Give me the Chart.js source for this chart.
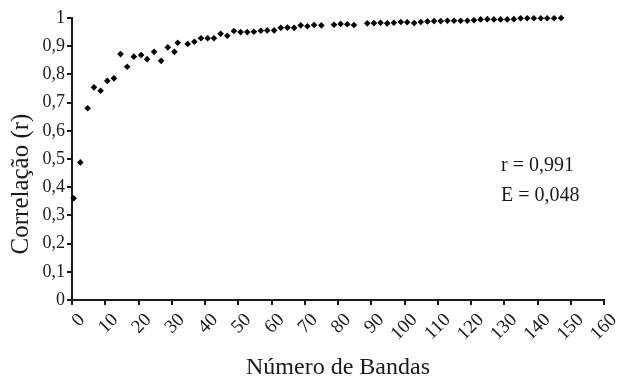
<!DOCTYPE html>
<html>
<head>
<meta charset="utf-8">
<script src="https://cdn.jsdelivr.net/npm/chart.js@4.4.1/dist/chart.umd.min.js"></script>
<style>
  html, body { margin: 0; padding: 0; background: #fff; }
  #wrap { width: 617px; height: 380px; position: relative; }
</style>
</head>
<body>
<div id="wrap"><canvas id="c"></canvas></div>
<script>
// ── data ──────────────────────────────────────────────────
const bandas = [
    0.5, 2.5, 4.7, 6.6, 8.6, 10.6, 12.6, 14.6, 16.6, 18.6,
    20.8, 22.6, 24.7, 26.8, 28.8, 30.8, 31.8, 34.8, 36.8, 38.8,
    40.8, 42.7, 44.7, 46.7, 48.7, 50.7, 52.7, 54.7, 56.8, 58.7,
    60.8, 62.8, 64.8, 66.8, 68.8, 70.8, 72.8, 75.0, 78.8, 80.8,
    82.8, 84.8, 88.8, 90.8, 92.8, 94.8, 96.8, 98.9, 100.8, 102.9,
    104.9, 106.9, 108.9, 110.9, 112.9, 114.9, 116.9, 118.9, 120.9, 122.9,
    124.9, 126.9, 128.9, 130.9, 132.9, 134.9, 136.9, 138.9, 141.0, 142.9,
    145.0, 147.1
];
const correlacao = [
    0.361, 0.488, 0.680, 0.754, 0.742, 0.777, 0.786, 0.872, 0.827, 0.863,
    0.869, 0.854, 0.880, 0.848, 0.896, 0.880, 0.912, 0.908, 0.916, 0.928,
    0.928, 0.928, 0.944, 0.937, 0.954, 0.950, 0.950, 0.951, 0.955, 0.956,
    0.956, 0.965, 0.966, 0.965, 0.974, 0.971, 0.975, 0.974, 0.976, 0.979,
    0.978, 0.975, 0.981, 0.982, 0.983, 0.981, 0.983, 0.986, 0.985, 0.982,
    0.986, 0.988, 0.989, 0.989, 0.990, 0.990, 0.990, 0.990, 0.992, 0.995,
    0.996, 0.995, 0.995, 0.995, 0.996, 0.999, 0.999, 0.999, 0.999, 0.999,
    0.999, 1.000
];
const xTickLabels = ['0','10','20','30','40','50','60','70','80','90','100','110','120','130','140','150','160'];
const yTickLabels = ['0','0,1','0,2','0,3','0,4','0,5','0,6','0,7','0,8','0,9','1'];
const statLines = ['r = 0,991', 'E = 0,048'];

const serif = "'Liberation Serif', 'Times New Roman', serif";
const ink = '#1a1a1a';

// y title + r/E note, drawn straight onto the canvas
const notes = {
    id: 'notes',
    afterDraw(chart) {
        const c = chart.ctx;
        c.save();
        c.fillStyle = ink;
        c.font = `20px ${serif}`;
        c.textBaseline = 'middle';
        c.textAlign = 'left';
        c.fillText(statLines[0], 501, 166);
        c.fillText(statLines[1], 501, 196);
        c.translate(21, 184);
        c.rotate(-Math.PI / 2);
        c.textAlign = 'center';
        c.font = `25px ${serif}`;
        c.fillText('Correlação (r)', 0, 0);
        c.restore();
    }
};

new Chart(document.getElementById('c').getContext('2d'), {
    type: 'scatter',
    data: {
        datasets: [{
            data: bandas.map((b, i) => ({ x: b, y: correlacao[i] })),
            pointStyle: 'rectRot', pointRadius: 3.3, borderWidth: 0, clip: false,
            backgroundColor: '#000', borderColor: '#000'
        }]
    },
    options: {
        responsive: true, maintainAspectRatio: false, animation: false,
        layout: { padding: { top: 18, right: 13, left: 0, bottom: 0 } },
        plugins: { legend: { display: false }, tooltip: { enabled: false } },
        scales: {
            x: {
                type: 'linear', min: 0, max: 160,
                afterFit: s => { s.height = 80; s.paddingLeft = 0; s.paddingRight = 0; },
                border: { color: ink, width: 2 },
                grid: { drawOnChartArea: false, color: ink, tickLength: 5, lineWidth: 2 },
                ticks: {
                    stepSize: 10, autoSkip: false, minRotation: 45, maxRotation: 45,
                    color: ink, font: { family: serif, size: 19 }, padding: 4, labelOffset: 10,
                    callback: (v, i) => xTickLabels[i]
                },
                title: {
                    display: true, text: 'Número de Bandas', color: ink,
                    font: { family: serif, size: 24, lineHeight: 1 }, padding: { top: 0, bottom: 0 }
                }
            },
            y: {
                min: 0, max: 1,
                afterFit: s => { s.width = 72; },
                border: { color: ink, width: 2 },
                grid: { drawOnChartArea: false, color: ink, tickLength: 5, lineWidth: 2 },
                ticks: {
                    stepSize: 0.1, autoSkip: false, color: ink, padding: 2,
                    font: { family: serif, size: 18 },
                    callback: (v, i) => yTickLabels[i]
                }
            }
        }
    },
    plugins: [notes]
});
</script>
</body>
</html>
